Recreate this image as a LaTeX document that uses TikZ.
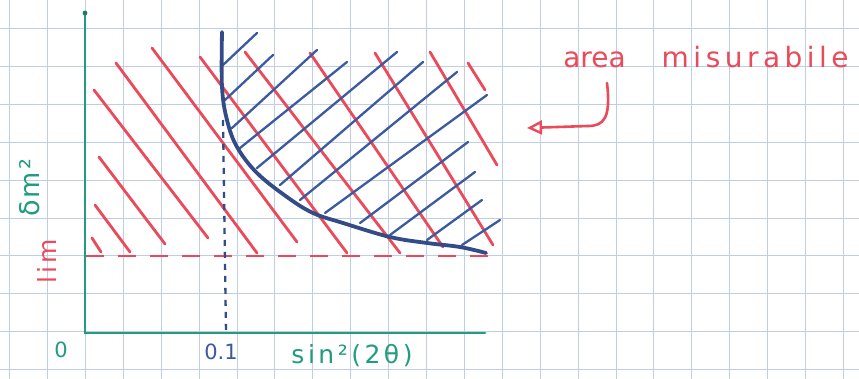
\documentclass[tikz,border=0pt]{standalone}
\usepackage{fontspec}
\setmainfont{DejaVu Sans}
\usetikzlibrary{arrows.meta}

\definecolor{gridblue}{RGB}{192,205,230}
\definecolor{penred}{RGB}{234,74,90}
\definecolor{penblue}{RGB}{60,90,160}
\definecolor{penteal}{RGB}{34,156,128}

\begin{document}
\begin{tikzpicture}[x=1pt,y=-1pt,
    paper/.style={gridblue, line width=0.9pt},
    axis/.style={penteal, line width=2.8pt, line cap=round},
    redhatch/.style={penred, line width=2.8pt, line cap=round},
    bluehatch/.style={penblue, line width=2.3pt, line cap=round},
    border/.style={penblue!85!black, line width=3.8pt, line cap=round},
    lbl/.style={inner sep=0pt, font=\fontsize{21}{23}\selectfont}]

    \useasboundingbox (0,0) rectangle (859,379);
    \fill[white] (0,0) rectangle (859,379);

    % squared paper
    \foreach \k in {0,...,22}
        \draw[paper] ({9.6+37.9*\k},0) -- ({9.6+37.9*\k},379);
    \foreach \k in {0,...,9}
        \draw[paper] (0,{28.5+37.9*\k}) -- (859,{28.5+37.9*\k});

    \coordinate (O) at (85,333);
    \coordinate (ytop) at (85,13);
    \coordinate (xend) at (485,333);
    \coordinate (limL) at (86,256);
    \coordinate (limR) at (490,256);
    \coordinate (cutT) at (223,120);
    \coordinate (cutB) at (226,333);

    % red hatching (whole region above the limit)
    \foreach \xa/\ya/\xb/\yb in {92/238/101/252, 95/205/130/252, 99/157/165/244,
        94/90/208/238, 116/63/257/253, 152/48/297/242, 200/57/347/253,
        245/52/400/253, 310/53/443/247, 375/53/493/245, 430/52/497/165,
        468/63/485/90}
        \draw[redhatch] (\xa,\ya) -- (\xb,\yb);

    % blue hatching (measurable area)
    \foreach \xa/\ya/\xb/\yb in {223/65/257/33, 225/100/273/55, 232/128/317/50,
        240/148/347/62, 257/168/397/52, 280/185/423/62, 300/200/457/72,
        325/213/487/95, 360/223/468/142, 390/235/475/172, 427/240/482/200,
        462/245/500/220}
        \draw[bluehatch] (\xa,\ya) -- (\xb,\yb);

    \draw[penred, line width=2.6pt, dash pattern=on 18pt off 14pt] (limL) -- (limR);
    \draw[penblue!85!black, line width=2.3pt, dash pattern=on 6pt off 6pt] (cutT) -- (cutB);

    \draw[border] plot[smooth, tension=0.6] coordinates {(222,32) (222,87) (227,120)
        (237,147) (257,173) (287,197) (313,213) (343,223) (390,237) (427,243)
        (460,247) (486,253)};

    \draw[axis] (ytop) -- (O) -- (xend);
    \fill[penteal!80!black] (ytop) circle (2.4pt);

    % labels
    \node[lbl, text=penteal] (zero) at (61,350) {0};
    \node[lbl, text=penblue] (tick) at (221,352) {0.1};
    \node[lbl, text=penteal, font=\fontsize{25}{27}\selectfont\addfontfeature{LetterSpace=14}]
        (xlab) at (352,356) {sin²(2θ)};
    \node[lbl, text=penteal, rotate=90, font=\fontsize{27}{29}\selectfont\addfontfeature{LetterSpace=8}]
        (ylab) at (30,188) {δm²};
    \node[lbl, text=penred, rotate=90, font=\fontsize{25}{27}\selectfont\addfontfeature{LetterSpace=12}]
        (limlab) at (47,261) {lim};
    \node[lbl, text=penred, font=\fontsize{28}{30}\selectfont]
        (area) at (706,57) {area\hspace{36pt}{\addfontfeature{LetterSpace=16}misurabile}};

    \coordinate (arrtail) at (607,83);
    \coordinate (arrtip) at (527,128);
    \draw[penred, line width=2.6pt, line cap=round,
        -{Triangle[open, length=15pt, width=14pt, line width=2.4pt]}]
        (arrtail) .. controls (611,118) and (604,126) .. (588,126) -- (arrtip);

\end{tikzpicture}
\end{document}
